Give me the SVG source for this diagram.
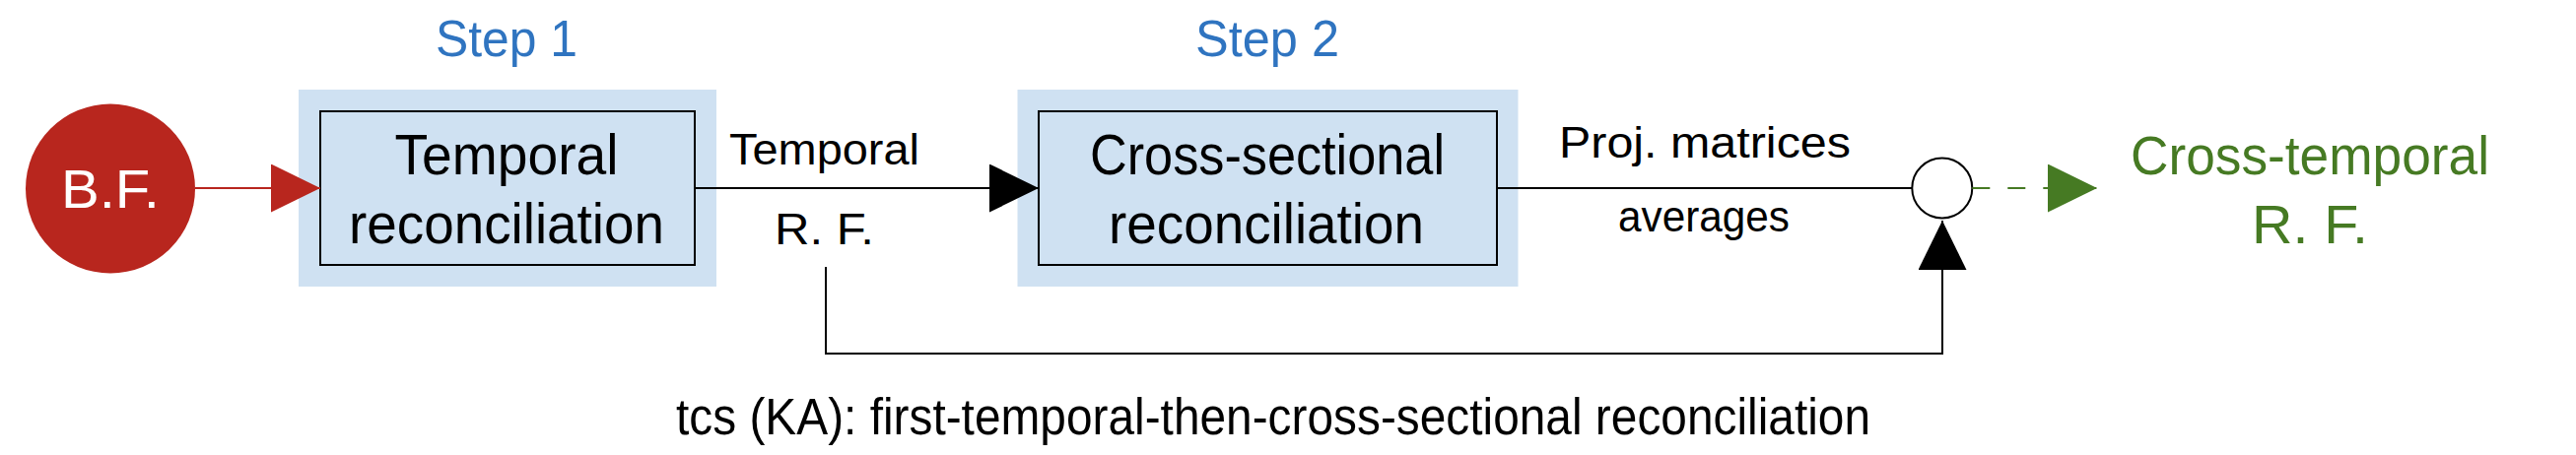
<svg xmlns="http://www.w3.org/2000/svg" width="2614" height="462" viewBox="0 0 2614 462">
<style>
text{font-family:"Liberation Sans",Arial,sans-serif;text-anchor:middle}
.step{fill:#2F74C0;font-size:52px}
.box{fill:#CFE1F2}
.inner{fill:#CFE1F2;stroke:#000;stroke-width:2}
.lbl{fill:#000;font-size:57px}
.edge{fill:#000;font-size:45px}
.green{fill:#467A23;font-size:56px}
.ln{fill:none;stroke:#000;stroke-width:2}
</style>
<defs>
<marker id="ab" markerUnits="userSpaceOnUse" markerWidth="50" markerHeight="50" refX="50" refY="24.5" orient="auto"><path d="M0,0 L50,24.5 L0,49 Z" fill="#000"/></marker>
<marker id="ar" markerUnits="userSpaceOnUse" markerWidth="50" markerHeight="50" refX="50" refY="24.5" orient="auto"><path d="M0,0 L50,24.5 L0,49 Z" fill="#B8261E"/></marker>
<marker id="ag" markerUnits="userSpaceOnUse" markerWidth="50" markerHeight="50" refX="50" refY="24.5" orient="auto"><path d="M0,0 L50,24.5 L0,49 Z" fill="#467A23"/></marker>
</defs>
<rect width="2614" height="462" fill="#fff"/>
<g id="bf">
<circle cx="112" cy="191.5" r="86" fill="#B8261E"/>
<text x="112" y="211" style="fill:#fff;font-size:56px" textLength="100" lengthAdjust="spacingAndGlyphs">B.F.</text>
</g>
<g id="step1">
<text class="step" x="514" y="57" textLength="144" lengthAdjust="spacingAndGlyphs">Step 1</text>
<rect class="box" x="303" y="91" width="424" height="200"/>
<rect class="inner" x="325" y="113" width="380" height="156"/>
<text class="lbl" x="514" y="177" textLength="227" lengthAdjust="spacingAndGlyphs">Temporal</text>
<text class="lbl" x="514" y="247" textLength="320" lengthAdjust="spacingAndGlyphs">reconciliation</text>
</g>
<g id="step2">
<text class="step" x="1286" y="57" textLength="146" lengthAdjust="spacingAndGlyphs">Step 2</text>
<rect class="box" x="1032.5" y="91" width="508" height="200"/>
<rect class="inner" x="1054" y="113" width="465" height="156"/>
<text class="lbl" x="1286" y="177" textLength="360" lengthAdjust="spacingAndGlyphs">Cross-sectional</text>
<text class="lbl" x="1285" y="247" textLength="320" lengthAdjust="spacingAndGlyphs">reconciliation</text>
</g>
<g id="combine">
<circle cx="1970.8" cy="191" r="30.5" fill="#fff" stroke="#000" stroke-width="2"/>
</g>
<g id="ctrf">
<text class="green" x="2344" y="177" textLength="364" lengthAdjust="spacingAndGlyphs">Cross-temporal</text>
<text class="green" x="2344" y="247" textLength="118" lengthAdjust="spacingAndGlyphs">R. F.</text>
</g>
<g id="connectors">
<line x1="198" y1="191" x2="325" y2="191" stroke="#B8261E" stroke-width="2" marker-end="url(#ar)"/>
<line class="ln" x1="705" y1="191" x2="1054" y2="191" marker-end="url(#ab)"/>
<line class="ln" x1="1519" y1="191" x2="1940.3" y2="191"/>
<path class="ln" d="M838,271 V359 H1971 V224" marker-end="url(#ab)"/>
<line x1="2001.3" y1="191" x2="2128" y2="191" stroke="#467A23" stroke-width="2" stroke-dasharray="18 18" marker-end="url(#ag)"/>
<text class="edge" x="836.5" y="167" textLength="193" lengthAdjust="spacingAndGlyphs">Temporal</text>
<text class="edge" x="836.5" y="248" textLength="101" lengthAdjust="spacingAndGlyphs">R. F.</text>
<text class="edge" x="1730" y="160" textLength="296" lengthAdjust="spacingAndGlyphs">Proj.  matrices</text>
<text class="edge" x="1729" y="235" textLength="174" lengthAdjust="spacingAndGlyphs">averages</text>
</g>
<text x="1292" y="441" style="font-size:51px" textLength="1212" lengthAdjust="spacingAndGlyphs">tcs (KA): first-temporal-then-cross-sectional reconciliation</text>
</svg>
